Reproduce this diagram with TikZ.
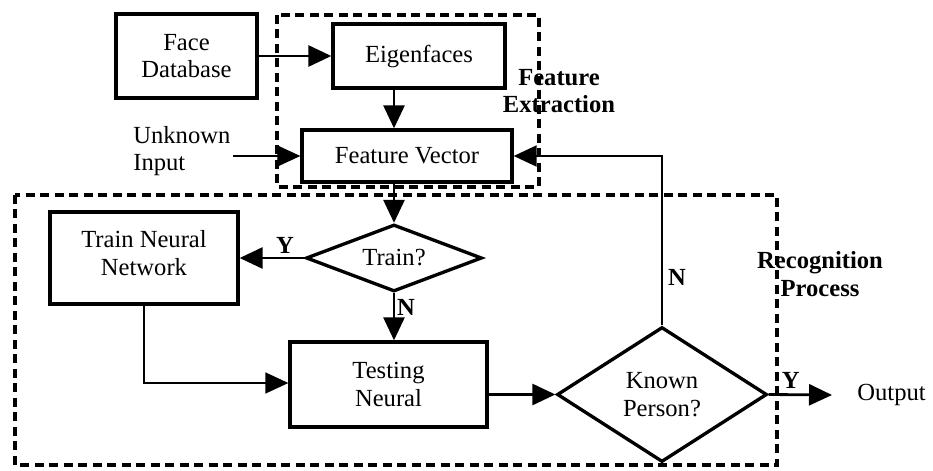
\documentclass[tikz,border=0pt]{standalone}
\usepackage{fontspec}
\setmainfont{Liberation Serif}
\usetikzlibrary{arrows.meta,shapes.geometric,positioning}

\begin{document}
\begin{tikzpicture}[x=0.02cm,y=-0.02cm,
    every node/.style={font=\fontsize{14}{15.5}\selectfont,inner sep=0pt},
    blk/.style={draw,line width=1.9pt,align=center},
    dec/.style={draw,diamond,line width=1.9pt,align=center},
    tip/.style={-{Triangle[length=0.46cm,width=0.42cm]}},
    conn/.style={tip,line width=1.6pt},
    tconn/.style={tip,line width=0.9pt},
    region/.style={line width=1.8pt,dash pattern=on 0.18cm off 0.11cm},
    lbl/.style={font=\fontsize{14}{15.5}\selectfont\bfseries,align=center}]
    \useasboundingbox (0,0) rectangle (933,470);
    % regions
    \draw [region] (277,15) rectangle (539,187);
    \draw [region] (15,195) rectangle (777,465);
    \node [lbl] (fextr) at (559,91) {Feature\\Extraction};
    \node [lbl] (recog) at (820,274) {Recognition\\Process};
    % blocks
    \node [blk,minimum width=2.82cm,minimum height=1.68cm] (facedb) at (186.5,56) {Face\\Database};
    \node [blk,minimum width=3.44cm,minimum height=1.28cm] (eigen) at (419,56) {Eigenfaces};
    \node [blk,minimum width=4.2cm,minimum height=1.04cm] (featvec) at (407,156) {Feature Vector};
    \node [align=left,anchor=west] (unknown) at (133,151) {Unknown\\Input};
    \coordinate (inp) at (233,156);
    \node [dec,aspect=2.63,minimum width=3.52cm,minimum height=1.34cm] (trainq) at (394,258) {Train?};
    \node [blk,minimum width=3.76cm,minimum height=1.84cm,text depth=0.2cm] (trainnn) at (144,258) {Train Neural\\Network};
    \node [blk,minimum width=3.94cm,minimum height=1.7cm] (testnn) at (388.5,384.5) {Testing\\Neural};
    \node [dec,aspect=1.55,minimum width=4.2cm,minimum height=2.7cm] (known) at (662,394.5) {Known\\Person?};
    \node [anchor=west] (output) at (857,395) {Output};
    % connectors
    \draw [conn] (facedb.east) -- (eigen.west);
    \draw [conn] (eigen.south -| trainq.north) -- (featvec.north -| trainq.north);
    \draw [tconn,line width=0.7pt] (inp) -- (featvec.west);
    \draw [conn] (featvec.south -| trainq.north) -- (trainq.north);
    \draw [conn] (trainq.west) -- (trainnn.east) node [lbl,pos=0.3,above=2pt] {Y};
    \draw [conn] (trainq.south) -- (trainq.south |- testnn.north) node [lbl,pos=0.3,right=1pt] {N};
    \draw [tconn] (trainnn.south) |- (testnn.west |- 0,383);
    \draw [conn] (testnn.east |- known.west) -- (known.west);
    \draw [conn] (known.east) -- ([xshift=-0.5cm]output.west) node [lbl,pos=0.35,above=3pt] {Y};
    \draw [tconn,line width=1.1pt] (known.north) |- (featvec.east) node [lbl,pos=0.14,right=3pt] {N};
\end{tikzpicture}
\end{document}
